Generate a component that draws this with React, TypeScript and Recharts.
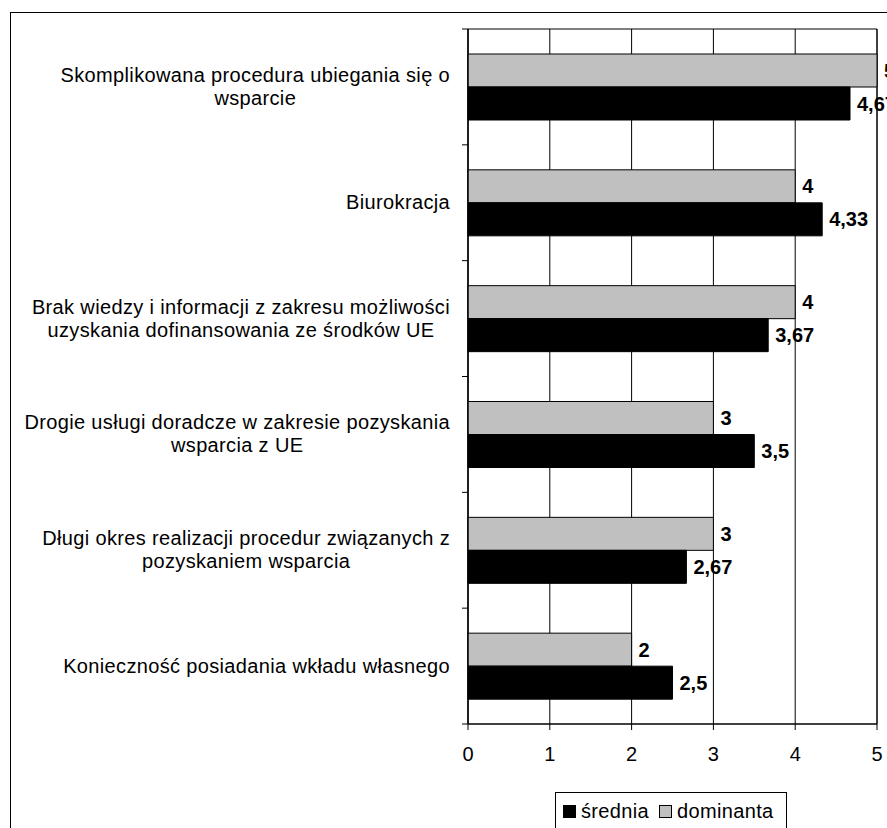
import React from 'react';
import { BarChart, Bar, XAxis, YAxis, CartesianGrid, Legend, LabelList, ReferenceArea } from 'recharts';

const categories = [
  'Skomplikowana procedura ubiegania się o\nwsparcie',
  'Biurokracja',
  'Brak wiedzy i informacji z zakresu możliwości\nuzyskania dofinansowania ze środków UE',
  'Drogie usługi doradcze w zakresie pozyskania\nwsparcia z UE',
  'Długi okres realizacji procedur związanych z\npozyskaniem wsparcia',
  'Konieczność posiadania wkładu własnego',
];
const sredniaValues = [4.67, 4.33, 3.67, 3.5, 2.67, 2.5];
const dominantaValues = [5, 4, 4, 3, 3, 2];
const xTicks = [0, 1, 2, 3, 4, 5];

const data = categories.map((name, i) => ({
  name,
  srednia: sredniaValues[i],
  dominanta: dominantaValues[i],
}));

const FONT = '"Liberation Sans", Arial, sans-serif';
const W = 887;
const H = 828;
const AXIS_X = 468;
const LABEL_RIGHT = 450;
const PLOT_TOP = 29;
const PLOT_BOTTOM = 724;
const X_AXIS_H = 40;
const BAND = (PLOT_BOTTOM - PLOT_TOP) / categories.length;
const SPACING = 0.35;

let ctx: CanvasRenderingContext2D | null = null;
function measure(s: string) {
  if (!ctx) ctx = document.createElement('canvas').getContext('2d');
  if (!ctx) return s.length * 10;
  ctx.font = `20px ${FONT}`;
  return ctx.measureText(s).width + s.length * SPACING;
}

function CategoryTick(props: any) {
  const { y, payload, index } = props;
  const lines = String(payload.value).split('\n');
  const w = Math.max(...lines.map(measure));
  const cx = LABEL_RIGHT - w / 2;
  const n = lines.length;
  const half = BAND / 2;
  return (
    <g>
      <line x1={AXIS_X - 6} x2={AXIS_X} y1={y - half} y2={y - half} stroke="#000" />
      {index === categories.length - 1 && (
        <line x1={AXIS_X - 6} x2={AXIS_X} y1={y + half} y2={y + half} stroke="#000" />
      )}
      <text textAnchor="middle" fontSize={20} fill="#000" fontFamily={FONT} letterSpacing={SPACING}>
        {lines.map((l, i) => (
          <tspan key={i} x={cx} y={y + 6.5 + (i - (n - 1) / 2) * 23}>
            {l}
          </tspan>
        ))}
      </text>
    </g>
  );
}

function LegendBox(props: any) {
  const items = [...(props.payload || [])].reverse();
  return (
    <div
      style={{
        border: '1px solid #000',
        height: 40,
        boxSizing: 'border-box',
        display: 'flex',
        alignItems: 'flex-start',
        paddingTop: 8,
        paddingLeft: 7,
        fontFamily: FONT,
        fontSize: 20,
        lineHeight: '20px',
        letterSpacing: SPACING,
        color: '#000',
        background: '#fff',
      }}
    >
      {items.map((it: any) => (
        <span key={it.value} style={{ display: 'flex', alignItems: 'center', marginRight: 10 }}>
          <span
            style={{
              display: 'inline-block',
              width: 13,
              height: 13,
              boxSizing: 'border-box',
              background: it.color,
              border: '1px solid #000',
              marginRight: 5,
            }}
          />
          {it.value}
        </span>
      ))}
    </div>
  );
}

const fmt = (v: any) => String(v).replace('.', ',');

export default function App() {
  return (
    <div
      style={{
        position: 'fixed',
        left: 0,
        top: 0,
        width: W,
        height: H,
        overflow: 'hidden',
        background: '#fff',
        fontFamily: FONT,
      }}
    >
      <div
        style={{
          position: 'absolute',
          left: 10,
          top: 12,
          width: 1000,
          height: 1000,
          borderTop: '1px solid #000',
          borderLeft: '1px solid #000',
        }}
      />
      <div style={{ position: 'absolute', left: 0, top: 0 }}>
        <BarChart
          width={W}
          height={H}
          data={data}
          layout="vertical"
          barSize={33}
          barGap={0}
          margin={{ top: PLOT_TOP, right: W - 877, left: 0, bottom: H - PLOT_BOTTOM - X_AXIS_H }}
        >
          <CartesianGrid horizontal={false} stroke="#000" />
          <XAxis
            type="number"
            domain={[0, 5]}
            ticks={xTicks}
            height={X_AXIS_H}
            tick={{ fontSize: 20, fill: '#000', fontFamily: FONT }}
            tickSize={6}
            tickMargin={17}
            axisLine={{ stroke: '#000' }}
            tickLine={{ stroke: '#000' }}
          />
          <YAxis
            type="category"
            dataKey="name"
            width={AXIS_X}
            interval={0}
            tick={<CategoryTick />}
            tickLine={false}
            axisLine={{ stroke: '#000' }}
          />
          <ReferenceArea x1={0} x2={5} fill="none" stroke="#000" ifOverflow="visible" />
          <Bar dataKey="dominanta" name="dominanta" fill="#C0C0C0" stroke="#000" strokeWidth={1} isAnimationActive={false}>
            <LabelList
              dataKey="dominanta"
              position="right"
              offset={7}
              formatter={fmt}
              style={{ fontSize: 20, fontWeight: 'bold', fill: '#000', fontFamily: FONT }}
            />
          </Bar>
          <Bar dataKey="srednia" name="średnia" fill="#000000" stroke="#000" strokeWidth={1} isAnimationActive={false}>
            <LabelList
              dataKey="srednia"
              position="right"
              offset={7}
              formatter={fmt}
              style={{ fontSize: 20, fontWeight: 'bold', fill: '#000', fontFamily: FONT }}
            />
          </Bar>
          <Legend
            layout="horizontal"
            verticalAlign="middle"
            align="center"
            content={<LegendBox />}
            wrapperStyle={{ top: 792, left: 555, width: 232, height: 40 }}
          />
        </BarChart>
      </div>
    </div>
  );
}
